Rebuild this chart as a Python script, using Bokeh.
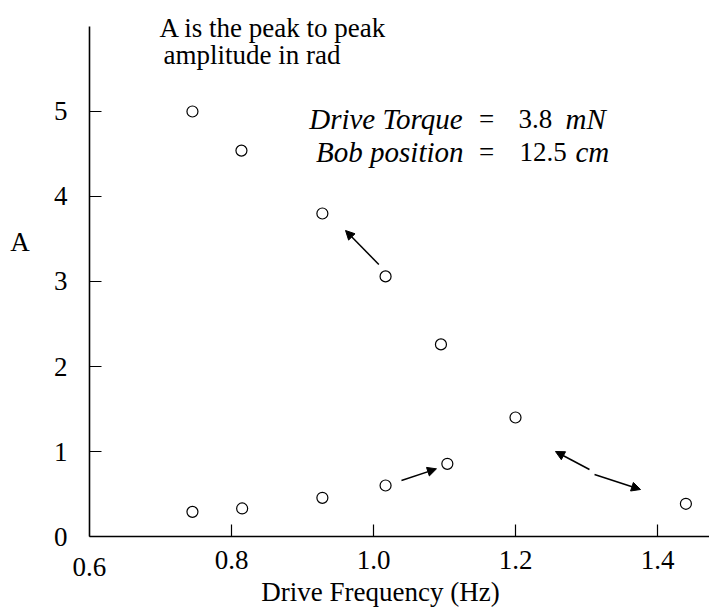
from bokeh.plotting import figure
from bokeh.models import Range1d, FixedTicker, Label, Arrow, NormalHead
from bokeh.embed import file_html
from bokeh.resources import INLINE

# ---- data ----
freq_up = [0.745, 0.814, 0.928, 1.017, 1.095, 1.200]
amp_up = [5.00, 4.54, 3.80, 3.06, 2.26, 1.40]
freq_down = [0.745, 0.815, 0.928, 1.017, 1.104, 1.440]
amp_down = [0.29, 0.33, 0.455, 0.60, 0.855, 0.385]

x_ticks = [0.8, 1.0, 1.2, 1.4]
y_ticks = [0, 1, 2, 3, 4, 5]
x_bounds = (0.6, 1.4732)
y_bounds = (0, 6)

# arrows: (x_start, y_start, x_end, y_end) in data units
arrow_x0 = [1.0075, 1.0394, 1.3042, 1.3113]
arrow_y0 = [3.20, 0.659, 0.788, 0.729]
arrow_x1 = [0.9606, 1.0887, 1.2563, 1.3761]
arrow_y1 = [3.60, 0.796, 1.000, 0.553]

FONT = "Liberation Serif"
FS = "27px"

p = figure(width=709, height=611, output_backend="svg", toolbar_location=None,
           x_range=Range1d(0.474648, 1.473239), y_range=Range1d(-0.882353, 6.305882),
           min_border=0)
p.outline_line_color = None
p.xgrid.visible = False
p.ygrid.visible = False
p.background_fill_color = "white"
p.border_fill_color = "white"

for ax in (p.xaxis[0], p.yaxis[0]):
    ax.axis_line_color = "black"
    ax.axis_line_width = 1.6
    ax.major_tick_line_color = "black"
    ax.major_tick_line_width = 1.2
    ax.major_tick_in = 12
    ax.major_tick_out = 0
    ax.minor_tick_line_color = None
    ax.major_label_text_font = FONT
    ax.major_label_text_font_size = FS
    ax.major_label_text_color = "black"

p.xaxis[0].ticker = FixedTicker(ticks=x_ticks)
p.xaxis[0].major_label_overrides = {0.8: "0.8", 1.0: "1.0", 1.2: "1.2", 1.4: "1.4"}
p.xaxis[0].major_label_standoff = 14
p.xaxis[0].bounds = x_bounds
p.xaxis[0].fixed_location = 0

p.yaxis[0].ticker = FixedTicker(ticks=y_ticks)
p.yaxis[0].major_label_standoff = 22
p.yaxis[0].bounds = y_bounds
p.yaxis[0].fixed_location = 0.6

p.scatter(freq_up, amp_up, marker="circle", size=11, fill_color=None,
          line_color="black", line_width=1.2)
p.scatter(freq_down, amp_down, marker="circle", size=11, fill_color=None,
          line_color="black", line_width=1.2)

for x0, y0, x1, y1 in zip(arrow_x0, arrow_y0, arrow_x1, arrow_y1):
    p.add_layout(Arrow(x_start=x0, y_start=y0, x_end=x1, y_end=y1,
                       line_color="black", line_width=1.5,
                       end=NormalHead(size=9, fill_color="black", line_color="black", line_width=1)))

def lab(text, x, y, align="left", baseline="alphabetic", style="normal", size=FS):
    p.add_layout(Label(x=x, y=y, text=text, text_font=FONT, text_font_size=size,
                       text_font_style=style, text_align=align, text_baseline=baseline,
                       text_color="black"))

# axis labels and the lowered first tick label
lab("0.6", 0.6, -0.353, align="center", baseline="middle")
lab("A", 0.5021, 3.459, align="center", baseline="middle")
lab("Drive Frequency (Hz)", 1.0099, -0.655, align="center")

# top note
lab("A is the peak to peak", 0.6986, 5.988)
lab("amplitude in rad", 0.7042, 5.659)

# parameters
IT = "29px"
lab("Drive Torque", 1.1254, 4.906, align="right", style="italic", size=IT)
lab("=", 1.1592, 4.906, align="center")
lab("3.8", 1.2042, 4.906)
lab("mN", 1.2704, 4.906, style="italic", size=IT)
lab("Bob position", 1.1268, 4.518, align="right", style="italic", size=IT)
lab("=", 1.1592, 4.518, align="center")
lab("12.5", 1.2056, 4.518)
lab("cm", 1.2845, 4.518, style="italic", size=IT)

open("out.html", "w").write(file_html(p, INLINE))
